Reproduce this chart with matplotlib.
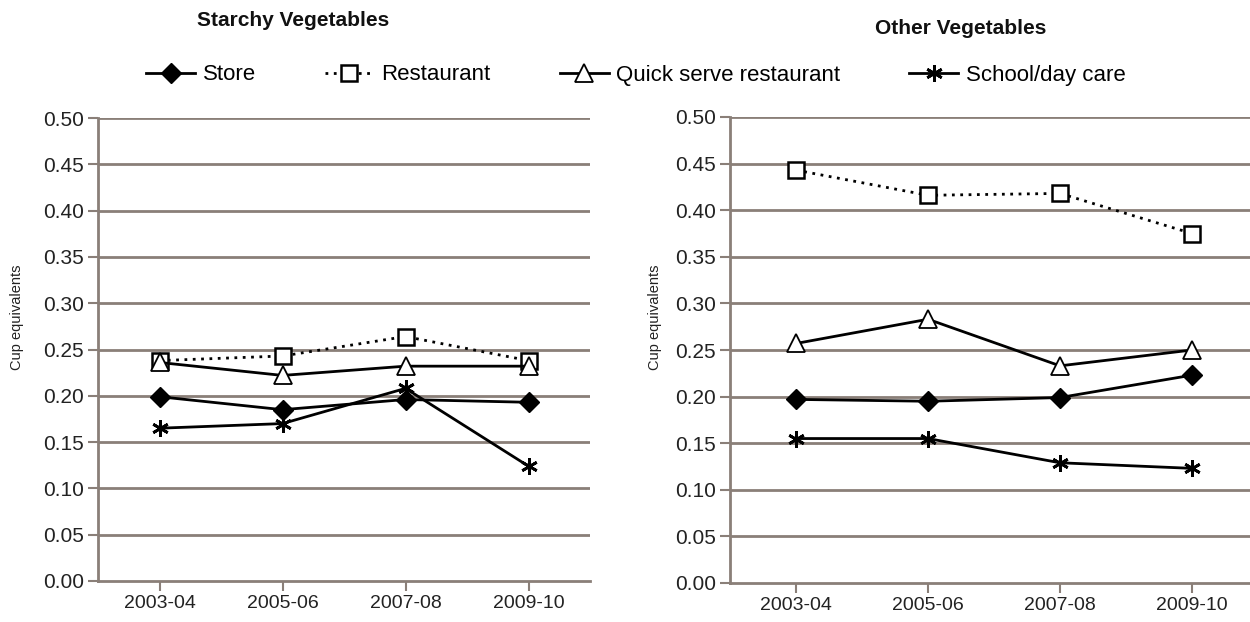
import matplotlib
matplotlib.use("Agg")
import matplotlib.pyplot as plt
from matplotlib.lines import Line2D

# =========================
# Données
# =========================
periods = ["2003-04", "2005-06", "2007-08", "2009-10"]
series_names = ["Store", "Restaurant", "Quick serve restaurant", "School/day care"]

starchy_store = [0.199, 0.185, 0.196, 0.193]
starchy_restaurant = [0.238, 0.243, 0.264, 0.238]
starchy_qsr = [0.236, 0.222, 0.232, 0.232]
starchy_school = [0.165, 0.170, 0.208, 0.124]

other_store = [0.197, 0.195, 0.199, 0.223]
other_restaurant = [0.443, 0.416, 0.418, 0.375]
other_qsr = [0.257, 0.283, 0.233, 0.250]
other_school = [0.155, 0.155, 0.129, 0.123]

yticks = [0.00, 0.05, 0.10, 0.15, 0.20, 0.25, 0.30, 0.35, 0.40, 0.45, 0.50]

# =========================
# Styles
# =========================
plt.rcParams['font.family'] = ['Liberation Sans Narrow', 'Liberation Sans', 'DejaVu Sans']
GRID = '#8a7f78'

styles = [
    dict(color='black', lw=2, ls='-', marker='D', ms=10, mfc='black', mec='black'),
    dict(color='black', lw=2, ls=(0, (1, 2)), marker='s', ms=11, mfc='white', mec='black', mew=1.8),
    dict(color='black', lw=2, ls='-', marker='^', ms=13, mfc='white', mec='black', mew=1.3),
    dict(color='black', lw=2, ls='-', marker=(6, 2, 0), ms=12, mfc='black', mec='black', mew=2),
]


def draw_panel(ax, data, title, title_xy):
    x = range(len(periods))
    for vals, st in zip(data, styles):
        ax.plot(x, vals, zorder=3, clip_on=False, **st)
    ax.set_xlim(-0.5, len(periods) - 0.5)
    ax.set_ylim(0, 0.5)
    ax.set_yticks(yticks)
    ax.set_yticklabels([f"{v:.2f}" for v in yticks])
    ax.set_xticks(list(x))
    ax.set_xticklabels(periods)
    for v in yticks[1:]:
        ax.axhline(v, color=GRID, lw=2, zorder=1)
    for s in ['top', 'right']:
        ax.spines[s].set_visible(False)
    for s in ['left', 'bottom']:
        ax.spines[s].set_color(GRID)
        ax.spines[s].set_linewidth(2)
    ax.tick_params(axis='y', colors=GRID, width=1.5, length=7, labelsize=15, labelcolor='#222222', pad=3)
    ax.tick_params(axis='x', colors=GRID, width=1.5, length=7, labelsize=14, labelcolor='#222222', pad=3)
    ax.set_ylabel("Cup equivalents", fontsize=10.5, color='#222222')
    ax.figure.text(title_xy[0], title_xy[1], title, fontsize=15, fontweight='bold',
                   ha='center', va='center', color='#111111')


fig = plt.figure(figsize=(12.5, 6.22), dpi=100)
ax1 = fig.add_axes([98 / 1250, 1 - 581 / 622, 492 / 1250, 463 / 622])
ax2 = fig.add_axes([730 / 1250, 1 - 583 / 622, 528 / 1250, 466 / 622])

draw_panel(ax1, [starchy_store, starchy_restaurant, starchy_qsr, starchy_school],
           "Starchy Vegetables", (293 / 1250, 1 - 21 / 622))
draw_panel(ax2, [other_store, other_restaurant, other_qsr, other_school],
           "Other Vegetables", (961 / 1250, 1 - 29 / 622))
ax1.yaxis.set_label_coords(-0.15, 0.57)
ax2.yaxis.set_label_coords(-0.128, 0.57)

handles = [Line2D([], [], **st) for st in styles]
fig.legend(handles, series_names, loc='center', bbox_to_anchor=(636 / 1250, 1 - 75 / 622),
           ncol=4, frameon=False, fontsize=16, handlelength=2.2, handletextpad=0.35,
           columnspacing=3.1)

fig.savefig("out.png", dpi=100)
